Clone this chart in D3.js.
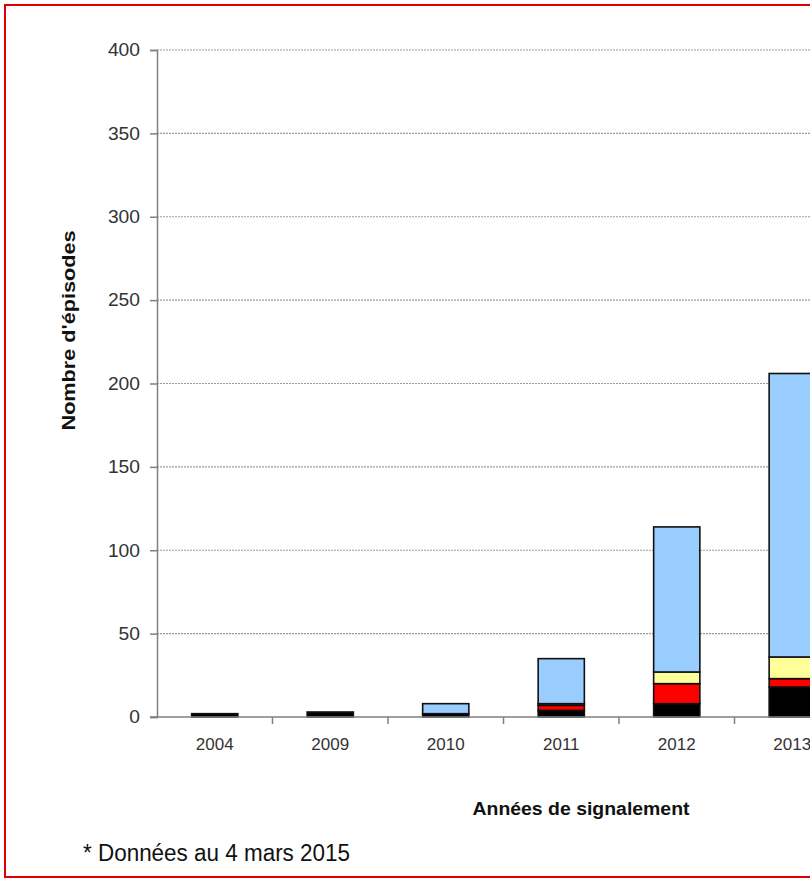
<!DOCTYPE html>
<html>
<head>
<meta charset="utf-8">
<script src="https://cdn.jsdelivr.net/npm/d3@7"></script>
<style>
  body { margin: 0; background: #fff; overflow: hidden; }
  svg { display: block; }
</style>
</head>
<body>
<div id="wrapper"></div>
<script>
// data
const years = ['2004', '2009', '2010', '2011', '2012', '2013'];
const seriesNames = ['noir', 'rouge', 'jaune', 'bleu'];
const seriesColors = ['#000000', '#ff0000', '#ffff99', '#99ccff'];
const noir  = [2, 3, 2, 4, 8, 18];
const rouge = [0, 0, 0, 3, 12, 5];
const jaune = [0, 0, 0, 1, 7, 13];
const bleu  = [0, 0, 6, 27, 87, 170];
const yTicks = [0, 50, 100, 150, 200, 250, 300, 350, 400];

function drawChart() {
    const dimensions = {
        width: 810,
        height: 880,
        margin: { top: 50, left: 157, bottom: 163 }
    };
    const bandStep = 115.5;

    const rows = years.map((y, i) => ({
        year: y, noir: noir[i], rouge: rouge[i], jaune: jaune[i], bleu: bleu[i]
    }));
    const stacked = d3.stack().keys(seriesNames)(rows);

    const svg = d3.select('#wrapper').append('svg')
        .attr('width', dimensions.width)
        .attr('height', dimensions.height);

    const xScale = d3.scaleBand()
        .domain(years)
        .range([dimensions.margin.left, dimensions.margin.left + bandStep * years.length])
        .paddingInner(0.6)
        .paddingOuter(0.3);

    const yScale = d3.scaleLinear()
        .domain([0, 400])
        .range([dimensions.height - dimensions.margin.bottom, dimensions.margin.top]);

    const plotRight = dimensions.margin.left + bandStep * years.length;

    // grid lines
    svg.append('g')
        .selectAll('line')
        .data(yTicks.filter(d => d > 0))
        .join('line')
        .attr('x1', dimensions.margin.left)
        .attr('x2', plotRight)
        .attr('y1', d => yScale(d))
        .attr('y2', d => yScale(d))
        .attr('stroke', '#9a9a9a')
        .attr('stroke-width', 1.2)
        .attr('stroke-dasharray', '2,1');

    // y axis
    const yAxis = svg.append('g')
        .attr('transform', `translate(${dimensions.margin.left},0)`)
        .call(d3.axisLeft(yScale).tickValues(yTicks).tickSize(7).tickPadding(10));
    yAxis.select('.domain').attr('stroke', '#808080').attr('stroke-width', 1.5);
    yAxis.selectAll('.tick line').attr('stroke', '#808080').attr('stroke-width', 1.5);
    yAxis.selectAll('.tick text')
        .attr('font-family', 'Liberation Sans, Arial, sans-serif')
        .attr('font-size', 18)
        .attr('fill', '#333')
        .attr('textLength', d => String(d).length * 10.7)
        .attr('lengthAdjust', 'spacingAndGlyphs');

    // bars
    svg.append('g')
        .selectAll('g')
        .data(stacked)
        .join('g')
        .attr('fill', (d, i) => seriesColors[i])
        .selectAll('rect')
        .data(d => d.filter(s => s[1] - s[0] > 0))
        .join('rect')
        .attr('x', d => xScale(d.data.year))
        .attr('width', xScale.bandwidth())
        .attr('y', d => yScale(d[1]))
        .attr('height', d => yScale(d[0]) - yScale(d[1]))
        .attr('stroke', '#111')
        .attr('stroke-width', 1.6);

    // x axis
    const xBase = yScale(0);
    svg.append('line')
        .attr('x1', dimensions.margin.left - 7)
        .attr('x2', plotRight)
        .attr('y1', xBase)
        .attr('y2', xBase)
        .attr('stroke', '#808080')
        .attr('stroke-width', 1.5);

    const step = xScale.step();
    svg.append('g')
        .selectAll('line')
        .data(years.slice(1))
        .join('line')
        .attr('x1', d => xScale(d) - step * 0.3)
        .attr('x2', d => xScale(d) - step * 0.3)
        .attr('y1', xBase)
        .attr('y2', xBase + 7)
        .attr('stroke', '#808080')
        .attr('stroke-width', 1.5);

    svg.append('g')
        .selectAll('text')
        .data(years)
        .join('text')
        .attr('x', d => xScale(d) + xScale.bandwidth() / 2)
        .attr('y', xBase + 33)
        .attr('text-anchor', 'middle')
        .attr('font-family', 'Liberation Sans, Arial, sans-serif')
        .attr('font-size', 17)
        .attr('fill', '#333')
        .text(d => d);

    // axis titles
    svg.append('text')
        .attr('transform', `translate(75, ${yScale(200) - 53}) rotate(-90)`)
        .attr('text-anchor', 'middle')
        .attr('font-family', 'Liberation Sans, Arial, sans-serif')
        .attr('font-weight', 'bold')
        .attr('font-size', 18)
        .attr('fill', '#111')
        .attr('textLength', 200)
        .attr('lengthAdjust', 'spacingAndGlyphs')
        .text("Nombre d'épisodes");

    svg.append('text')
        .attr('x', 581)
        .attr('y', 815)
        .attr('text-anchor', 'middle')
        .attr('font-family', 'Liberation Sans, Arial, sans-serif')
        .attr('font-weight', 'bold')
        .attr('font-size', 18)
        .attr('fill', '#111')
        .attr('textLength', 217)
        .attr('lengthAdjust', 'spacingAndGlyphs')
        .text('Années de signalement');

    // footnote
    svg.append('text')
        .attr('x', 83)
        .attr('y', 861)
        .attr('font-family', 'Liberation Sans Narrow, Arial Narrow, sans-serif')
        .attr('font-size', 23)
        .attr('fill', '#111')
        .attr('textLength', 267)
        .attr('lengthAdjust', 'spacingAndGlyphs')
        .text('* Données au 4 mars 2015');

    // red frame
    svg.append('rect')
        .attr('x', 5)
        .attr('y', 5)
        .attr('width', 900)
        .attr('height', 872)
        .attr('fill', 'none')
        .attr('stroke', '#e00000')
        .attr('stroke-width', 2);
}

drawChart();
</script>
</body>
</html>
